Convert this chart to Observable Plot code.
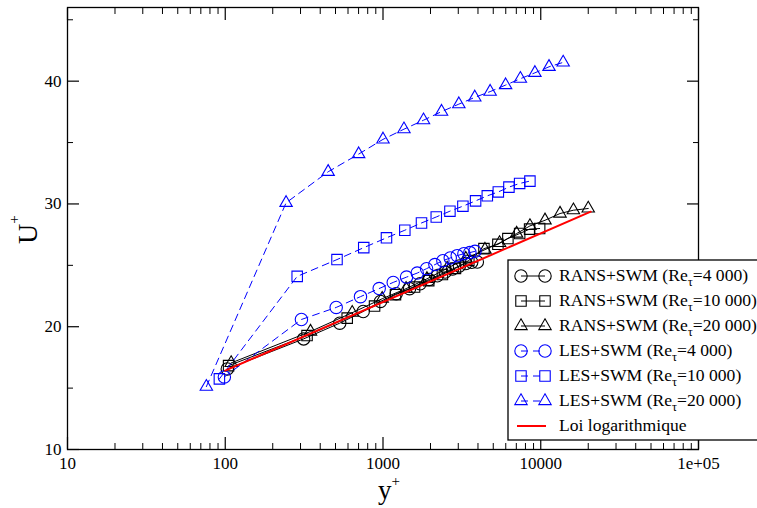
<!DOCTYPE html>
<html><head><meta charset="utf-8">
<script src="https://cdn.jsdelivr.net/npm/d3@7"></script>
<script src="https://cdn.jsdelivr.net/npm/@observablehq/plot@0.6"></script>
<style>
html,body{margin:0;padding:0;overflow:hidden;background:#fff;}
svg{overflow:hidden;}
</style></head><body><div id="chart"></div>
<script>
// ---- Data ----
const ransX_4000  = [103, 314, 532, 749, 964, 1213, 1473, 1720, 1960, 2210, 2480, 2760, 3050, 3350, 3650, 3963];
const ransU_4000  = [16.56, 19.01, 20.29, 21.24, 22.06, 22.69, 23.10, 23.50, 23.85, 24.15, 24.45, 24.70, 24.95, 25.15, 25.25, 25.27];
const ransX_10000 = [105, 330, 593, 884, 1200, 1585, 1950, 2380, 2880, 3500, 4365, 5350, 6190, 7350, 8500, 9840];
const ransU_10000 = [16.83, 19.28, 20.70, 21.68, 22.61, 23.23, 23.75, 24.25, 24.75, 25.40, 26.36, 26.71, 27.18, 27.59, 27.95, 28.00];
const ransX_20000 = [109, 347, 638, 988, 1400, 1900, 2550, 3350, 4430, 5480, 7030, 8540, 10640, 13250, 16110, 20000];
const ransU_20000 = [17.05, 19.61, 21.14, 22.28, 23.10, 23.90, 24.75, 25.55, 26.28, 26.82, 27.59, 28.21, 28.67, 29.22, 29.49, 29.63];
const lesX_4000   = [98.7, 304, 505, 720, 946, 1161, 1410, 1648, 1889, 2133, 2396, 2669, 2955, 3257, 3555, 3827];
const lesU_4000   = [15.91, 20.59, 21.57, 22.45, 23.11, 23.61, 24.04, 24.37, 24.73, 25.06, 25.38, 25.60, 25.79, 25.95, 26.04, 26.14];
const lesX_10000  = [91.8, 285.8, 511, 755, 1052, 1375, 1754, 2176, 2656, 3210, 3863, 4584, 5383, 6285, 7348, 8536];
const lesU_10000  = [15.75, 24.10, 25.47, 26.44, 27.24, 27.86, 28.45, 28.94, 29.41, 29.82, 30.25, 30.66, 30.98, 31.37, 31.67, 31.86];
const lesX_20000  = [75.9, 243, 449, 701, 1000, 1358, 1806, 2350, 3025, 3817, 4777, 5986, 7427, 9183, 11280, 13870];
const lesU_20000  = [15.12, 30.09, 32.62, 34.06, 35.26, 36.09, 36.82, 37.52, 38.13, 38.68, 39.15, 39.68, 40.20, 40.68, 41.17, 41.53];
const logLawX     = [100, 20750];
const logLawU     = [16.43, 29.37];

const seriesLabels = [
  ["RANS+SWM (Re", "τ", "=4 000)"],
  ["RANS+SWM (Re", "τ", "=10 000)"],
  ["RANS+SWM (Re", "τ", "=20 000)"],
  ["LES+SWM (Re", "τ", "=4 000)"],
  ["LES+SWM (Re", "τ", "=10 000)"],
  ["LES+SWM (Re", "τ", "=20 000)"],
  ["Loi logarithmique"]
];
const xTickValues = [10, 100, 1000, 10000, 100000];
const xTickLabels = ["10", "100", "1000", "10000", "1e+05"];
const yTickValues = [10, 20, 30, 40];
const yMinorValues = [15, 25, 35, 45];
const xMinorValues = [10, 100, 1000, 10000].flatMap(d => [2,3,4,5,6,7,8,9].map(k => d * k));

// ---- Build tables ----
const zip = (xs, ys) => xs.map((x, i) => ({x, y: ys[i]}));
const series = [
  {data: zip(ransX_4000, ransU_4000),   color: "black", symbol: "circle",   r: 6.2, dash: null},
  {data: zip(ransX_10000, ransU_10000), color: "black", symbol: "square",   r: 5.9, dash: null},
  {data: zip(ransX_20000, ransU_20000), color: "black", symbol: "triangle", r: 4.6, dash: null},
  {data: zip(lesX_4000, lesU_4000),     color: "#0000ff", symbol: "circle",   r: 6.2, dash: "7,5"},
  {data: zip(lesX_10000, lesU_10000),   color: "#0000ff", symbol: "square",   r: 5.9, dash: "7,5"},
  {data: zip(lesX_20000, lesU_20000),   color: "#0000ff", symbol: "triangle", r: 4.6, dash: "7,5"}
];
const logLaw = zip(logLawX, logLawU);

const marks = [];
for (const s of series) {
  marks.push(Plot.line(s.data, {x: "x", y: "y", stroke: s.color, strokeWidth: 1, strokeDasharray: s.dash}));
  marks.push(Plot.dot(s.data, {x: "x", y: "y", symbol: s.symbol, r: s.r, stroke: s.color, fill: "none", strokeWidth: 1.1}));
}
marks.push(Plot.line(logLaw, {x: "x", y: "y", stroke: "#ff0000", strokeWidth: 2}));

const blank = () => "";
const plot = Plot.plot({
  width: 757, height: 508,
  marginLeft: 67, marginRight: 59, marginTop: 7, marginBottom: 59,
  style: {fontFamily: "'Liberation Serif', 'Times New Roman', serif", fontSize: "17px", color: "black", background: "white"},
  x: {type: "log", domain: [10, 1e5]},
  y: {domain: [10, 46]},
  marks: [
    // inward ticks (major & minor) on all four sides
    Plot.axisX({anchor: "bottom", ticks: xTickValues, tickSize: 12, dy: -12, tickFormat: blank, label: null, strokeWidth: 1.2}),
    Plot.axisX({anchor: "bottom", ticks: xMinorValues, tickSize: 6, dy: -6, tickFormat: blank, label: null}),
    Plot.axisX({anchor: "top", ticks: xTickValues, tickSize: 12, dy: 12, tickFormat: blank, label: null, strokeWidth: 1.2}),
    Plot.axisX({anchor: "top", ticks: xMinorValues, tickSize: 6, dy: 6, tickFormat: blank, label: null}),
    Plot.axisY({anchor: "left", ticks: yTickValues, tickSize: 12, dx: 12, tickFormat: blank, label: null, strokeWidth: 1.2}),
    Plot.axisY({anchor: "left", ticks: yMinorValues, tickSize: 6, dx: 6, tickFormat: blank, label: null}),
    Plot.axisY({anchor: "right", ticks: yTickValues, tickSize: 12, dx: -12, tickFormat: blank, label: null, strokeWidth: 1.2}),
    Plot.axisY({anchor: "right", ticks: yMinorValues, tickSize: 6, dx: -6, tickFormat: blank, label: null}),
    // tick labels
    Plot.axisX({anchor: "bottom", ticks: xTickValues, tickSize: 0, tickPadding: 7, tickFormat: (d) => xTickLabels[xTickValues.indexOf(d)], label: null}),
    Plot.axisY({anchor: "left", ticks: yTickValues, tickSize: 0, tickPadding: 6, label: null}),
    ...marks,
    Plot.frame({stroke: "black", strokeWidth: 1.3})
  ]
});
document.getElementById("chart").appendChild(plot);

// ---- Axis titles ----
const svg = d3.select(plot);
const serif = "'Liberation Serif', 'Times New Roman', serif";
const ut = svg.append("text")
  .attr("transform", "translate(37,244) rotate(-90)")
  .attr("text-anchor", "start")
  .attr("font-family", serif).attr("fill", "black");
ut.append("tspan").attr("font-size", 28).text("U");
ut.append("tspan").attr("font-size", 15).attr("dy", -18).text("+");

const yt = svg.append("text")
  .attr("x", 378).attr("y", 499)
  .attr("text-anchor", "start")
  .attr("font-family", serif).attr("fill", "black");
yt.append("tspan").attr("font-size", 27).text("y");
yt.append("tspan").attr("font-size", 15).attr("dy", -13).text("+");

// ---- Legend ----
const lg = svg.append("g");
lg.append("rect").attr("x", 508).attr("y", 260).attr("width", 270).attr("height", 180)
  .attr("fill", "white").attr("stroke", "black").attr("stroke-width", 1.3);
const rowY = i => 276 + i * 25;
series.forEach((s, i) => {
  const y = rowY(i);
  lg.append("line").attr("x1", 521).attr("x2", 545).attr("y1", y).attr("y2", y)
    .attr("stroke", s.color).attr("stroke-width", 1).attr("stroke-dasharray", s.dash);
  const sym = s.symbol === "circle" ? d3.symbolCircle : s.symbol === "square" ? d3.symbolSquare : d3.symbolTriangle;
  const path = d3.symbol(sym, Math.PI * s.r * s.r)();
  for (const x of [521, 545]) {
    lg.append("path").attr("d", path).attr("transform", `translate(${x},${y})`)
      .attr("fill", "none").attr("stroke", s.color).attr("stroke-width", 1.1);
  }
});
lg.append("line").attr("x1", 517).attr("x2", 546).attr("y1", rowY(6)).attr("y2", rowY(6))
  .attr("stroke", "#ff0000").attr("stroke-width", 2);
seriesLabels.forEach((lab, i) => {
  const t = lg.append("text").attr("x", 559).attr("y", rowY(i) + 5)
    .attr("text-anchor", "start")
    .attr("font-family", serif).attr("font-size", 17.6).attr("fill", "black");
  t.append("tspan").text(lab[0]);
  if (lab.length > 1) {
    t.append("tspan").attr("font-size", 12.5).attr("dy", 5).text(lab[1]);
    t.append("tspan").attr("dy", -5).text(lab[2]);
  }
});
</script></body></html>
